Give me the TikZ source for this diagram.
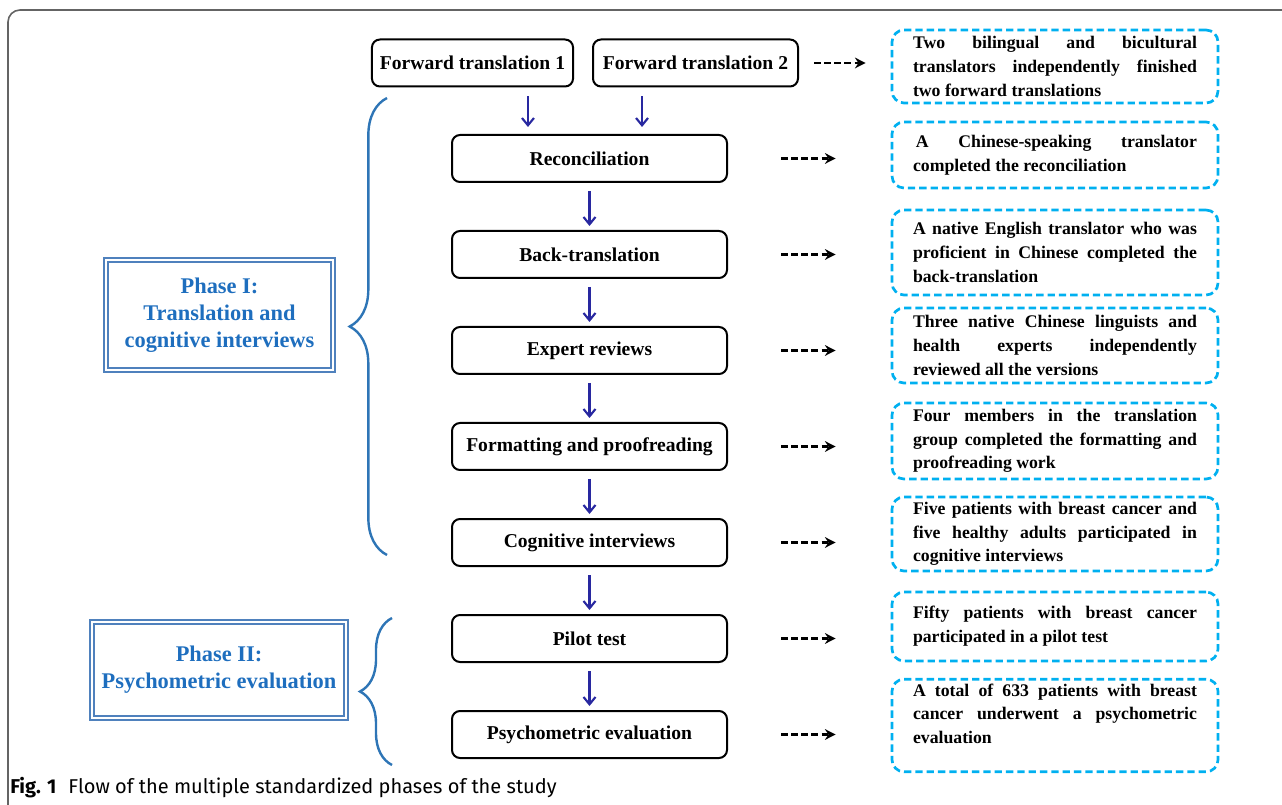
\documentclass[tikz,border=0pt]{standalone}
\usepackage{fontspec}
\setmainfont{Liberation Serif}
\newfontfamily\capfont{Fira Sans}
\usepackage{tikz}
\usetikzlibrary{arrows.meta,positioning,decorations.pathreplacing}
\definecolor{navyarrow}{RGB}{40,40,160}
\definecolor{phaseblue}{RGB}{30,110,190}
\definecolor{phaseframe}{RGB}{79,129,189}
\definecolor{bracecol}{RGB}{46,117,182}
\definecolor{notecyan}{RGB}{0,176,240}
\definecolor{framegray}{RGB}{100,100,100}

\tikzset{
  stepbox/.style={draw, rounded corners=6pt, line width=1.5pt, minimum height=35.25pt, inner xsep=6pt,
    font=\fontsize{14.7}{17}\selectfont\bfseries},
  mainbox/.style={stepbox, minimum width=206.25pt},
  notebox/.style={draw=notecyan, line width=2pt, dash pattern=on 5.5pt off 3pt, rounded corners=9pt,
    text width=213pt, inner xsep=15.75pt, align=justify, font=\fontsize{13.3}{17.8}\selectfont\bfseries},
  phasebox/.style={draw=phaseframe, double=white, double distance=2pt, line width=1.1pt, text=phaseblue,
    align=center, font=\fontsize{16.8}{20.3}\selectfont\bfseries},
  flowarrow/.style={navyarrow, line width=1.6pt, -{Straight Barb[length=5.5pt,width=9pt]}},
  notearrow/.style={black, line width=2pt, dash pattern=on 5pt off 2.6pt, -{Stealth[length=8pt,width=8pt]}},
  bracecurl/.style={bracecol, line width=1.8pt, decorate, decoration={brace, amplitude=#1}}
}

\begin{document}
\begin{tikzpicture}[x=0.75pt, y=-0.75pt, node distance=35.25pt]
  \useasboundingbox (0,0) rectangle (1282,805);
  % frame of the figure
  \draw[framegray, line width=1.2pt, rounded corners=9pt] (8,805) -- (8,10) -- (1282,10);

  % main column
  \node[stepbox, minimum width=150.75pt] (fwd1) at (472.5,63) {Forward translation 1};
  \node[stepbox, minimum width=153.75pt] (fwd2) at (695.5,63) {Forward translation 2};
  \node[mainbox] (recon) at (589.5,158.5) {Reconciliation};
  \node[mainbox, below=of recon] (back) {Back-translation};
  \node[mainbox, below=of back] (expert) {Expert reviews};
  \node[mainbox, below=of expert] (format) {Formatting and proofreading};
  \node[mainbox, below=of format] (cogn) {Cognitive interviews};
  \node[mainbox, below=of cogn] (pilot) {Pilot test};
  \node[mainbox, below=of pilot] (psych) {Psychometric evaluation};

  \draw[flowarrow, shorten <=6.4pt, shorten >=5.25pt] ([xshift=41.6pt]fwd1.south) -- ([xshift=41.6pt]fwd1.south |- recon.north);
  \draw[flowarrow, shorten <=6.4pt, shorten >=5.25pt] ([xshift=-40.1pt]fwd2.south) -- ([xshift=-40.1pt]fwd2.south |- recon.north);
  \foreach \a/\b in {recon/back, back/expert, expert/format, format/cogn, cogn/pilot, pilot/psych}
    \draw[flowarrow, shorten <=6pt, shorten >=3pt] (\a) -- (\b);

  % notes on the right
  \node[notebox, minimum height=54.75pt] (note1) at (1055,66.5) {Two bilingual and bicultural\linebreak translators independently finished\linebreak two forward translations};
  \node[notebox, minimum height=49.5pt] (note2) at (1055,155) {\,A Chinese-speaking translator\linebreak completed the reconciliation};
  \node[notebox, minimum height=63.75pt] (note3) at (1055,252.5) {A native English translator who was\linebreak proficient in Chinese completed the\linebreak back-translation};
  \node[notebox, minimum height=56.25pt] (note4) at (1055,345.5) {Three native Chinese linguists and\linebreak health experts independently\linebreak reviewed all the versions};
  \node[notebox, minimum height=57pt] (note5) at (1055,441) {Four members in the translation\linebreak group completed the formatting and\linebreak proofreading work};
  \node[notebox, minimum height=55.5pt] (note6) at (1055,534) {Five patients with breast cancer and\linebreak five healthy adults participated in\linebreak cognitive interviews};
  \node[notebox, minimum height=51.75pt] (note7) at (1055,626.5) {Fifty patients with breast cancer\linebreak participated in a pilot test};
  \node[notebox, minimum height=62.25pt] (note8) at (1055,725.5) {A total of 633 patients with breast\linebreak cancer underwent a psychometric\linebreak evaluation\linebreak\mbox{}};

  \draw[notearrow, shorten <=11.25pt, shorten >=18.75pt] (fwd2.east) -- (fwd2.east -| note1.west);
  \foreach \a/\b in {recon/note2, back/note3, expert/note4, format/note5, cogn/note6, pilot/note7, psych/note8}
    \draw[notearrow, shorten <=39.75pt, shorten >=41.25pt] (\a.east) -- (\a.east -| \b.west);

  % phases on the left
  \node[phasebox, minimum width=170.25pt, minimum height=82.5pt] (phase1) at (219.5,315) {Phase I:\\Translation and\\cognitive interviews};
  \node[phasebox, minimum width=190.5pt, minimum height=72pt] (phase2) at (219,670) {Phase II:\\Psychometric evaluation};
  \draw[bracecurl=28pt] (387,555) -- (387,98);
  \draw[bracecurl=24pt] (392,765) -- (392,618);

  \node[anchor=base west, inner sep=0pt, font=\capfont\fontsize{15}{17}\selectfont] (caption) at (10,793)
    {\textbf{Fig. 1}\hspace{0.6em}Flow of the multiple standardized phases of the study};
\end{tikzpicture}
\end{document}
